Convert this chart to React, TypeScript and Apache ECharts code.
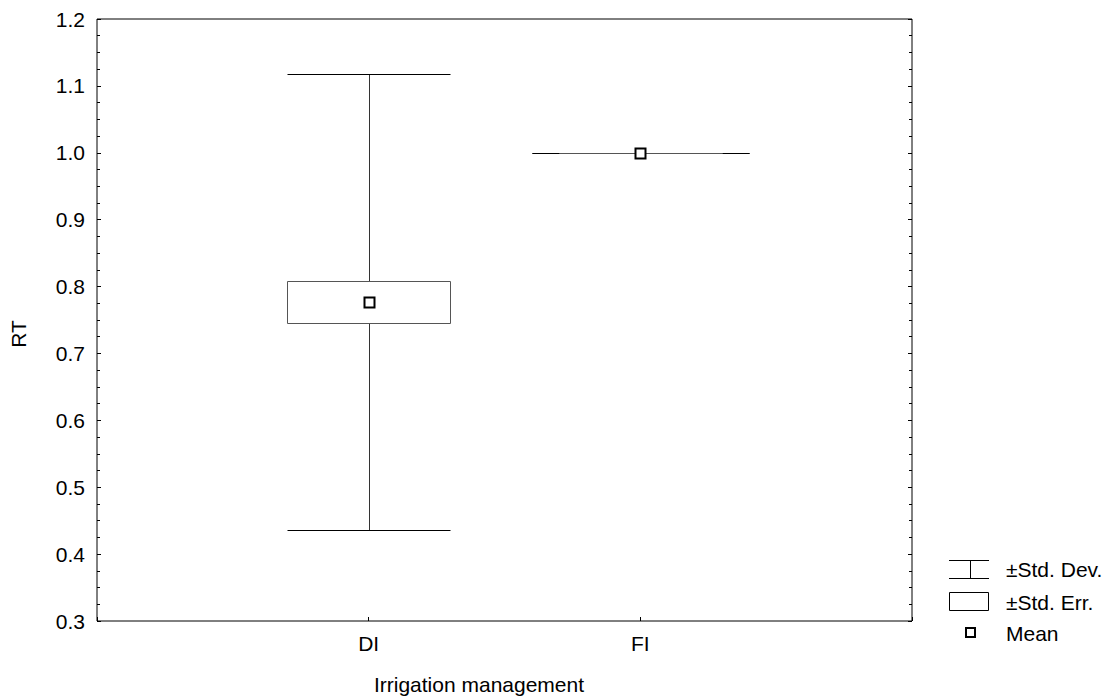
import React, { useEffect, useRef } from "react";
import * as echarts from "echarts";

// Group statistics for RT by irrigation management
const categories = ["DI", "FI"];
const means = [0.777, 1.0];
const stdDevs = [0.341, 0.0];
const stdErrs = [0.031, 0.0];

// Y axis range and tick step
const yMin = 0.3;
const yMax = 1.2;
const yStep = 0.1;

const FONT = "'Liberation Sans', Arial, sans-serif";
const FONT_SIZE = 21;

// Half-widths (in x-axis units) of the whisker caps and the SE boxes
const CAP_HALF = [0.3, 0.4];
const BOX_HALF = 0.3;

const crisp = (v: number) => Math.round(v) + 0.5;

export default function App() {
  const ref = useRef<HTMLDivElement>(null);

  useEffect(() => {
    if (!ref.current) return;
    const chart = echarts.init(ref.current, undefined, { renderer: "svg" });

    const data = categories.map((c, i) => [i + 1, means[i], stdDevs[i], stdErrs[i]]);

    const renderItem = (params: any, api: any) => {
      const x = api.value(0);
      const m = api.value(1);
      const sd = api.value(2);
      const se = api.value(3);
      const idx = params.dataIndex;
      const cap = CAP_HALF[idx];

      const xc = crisp(api.coord([x, m])[0]);
      const ySdTop = crisp(api.coord([x, m + sd])[1]);
      const ySdBot = crisp(api.coord([x, m - sd])[1]);
      const yBoxTop = crisp(api.coord([x, m + se])[1]);
      const yBoxBot = crisp(api.coord([x, m - se])[1]);
      const yMean = api.coord([x, m])[1];
      const capL = crisp(api.coord([x - cap, m])[0]);
      const capR = crisp(api.coord([x + cap, m])[0]);
      const boxL = crisp(api.coord([x - BOX_HALF, m])[0]);
      const boxR = crisp(api.coord([x + BOX_HALF, m])[0]);

      const lineStyle = { stroke: "#000", lineWidth: 1 };
      return {
        type: "group",
        children: [
          { type: "line", shape: { x1: xc, y1: ySdTop, x2: xc, y2: ySdBot }, style: { stroke: "#333", lineWidth: 1 } },
          { type: "line", shape: { x1: capL, y1: ySdTop, x2: capR, y2: ySdTop }, style: lineStyle },
          { type: "line", shape: { x1: capL, y1: ySdBot, x2: capR, y2: ySdBot }, style: lineStyle },
          {
            type: "polygon",
            shape: { points: [[boxL, yBoxTop], [boxR, yBoxTop], [boxR, yBoxBot], [boxL, yBoxBot]] },
            style: { fill: "#fff", stroke: "#555", lineWidth: 1 },
          },
          {
            type: "rect",
            shape: { x: xc - 0.5 - 4.5, y: Math.round(yMean) - 4.5, width: 10, height: 10 },
            style: { fill: "#fff", stroke: "#000", lineWidth: 2 },
          },
        ],
      };
    };

    const textStyle = { fontFamily: FONT, fontSize: FONT_SIZE, fill: "#000" };

    const yAxisBase = {
      type: "value",
      min: yMin,
      max: yMax,
      interval: yStep,
      axisLine: { show: false },
      splitLine: { show: false },
      axisTick: { show: true, inside: true, length: 4, lineStyle: { color: "#000" } },
      minorTick: { show: true, splitNumber: 4, length: 3, lineStyle: { color: "#000" } },
    };

    chart.setOption({
      animation: false,
      backgroundColor: "#fff",
      grid: {
        left: 97,
        right: 208,
        top: 19,
        bottom: 79,
        show: true,
        borderColor: "#000",
        borderWidth: 1,
        backgroundColor: "transparent",
      },
      xAxis: {
        type: "value",
        min: 0,
        max: categories.length + 1,
        interval: 1,
        axisLine: { show: false },
        splitLine: { show: false },
        axisTick: { show: true, inside: true, length: 4, lineStyle: { color: "#000" } },
        axisLabel: {
          margin: 12,
          fontFamily: FONT,
          fontSize: FONT_SIZE,
          color: "#000",
          formatter: (v: number) => categories[v - 1] ?? "",
        },
      },
      yAxis: [
        {
          ...yAxisBase,
          position: "left",
          axisLabel: {
            margin: 12,
            fontFamily: FONT,
            fontSize: FONT_SIZE,
            color: "#000",
            formatter: (v: number) => v.toFixed(1),
          },
        },
        {
          ...yAxisBase,
          position: "right",
          axisLabel: { show: false },
        },
      ],
      graphic: [
        {
          type: "text",
          x: 18,
          y: 334,
          rotation: Math.PI / 2,
          style: { ...textStyle, text: "RT", align: "center", verticalAlign: "middle" },
        },
        {
          type: "text",
          x: 479,
          y: 684,
          style: { ...textStyle, text: "Irrigation management", align: "center", verticalAlign: "middle" },
        },
        // Legend
        { type: "line", shape: { x1: 949, y1: 560.5, x2: 989, y2: 560.5 }, style: { stroke: "#000", lineWidth: 1 } },
        { type: "line", shape: { x1: 949, y1: 578.5, x2: 989, y2: 578.5 }, style: { stroke: "#000", lineWidth: 1 } },
        { type: "line", shape: { x1: 970.5, y1: 560.5, x2: 970.5, y2: 578.5 }, style: { stroke: "#000", lineWidth: 1 } },
        { type: "rect", shape: { x: 949.5, y: 592.5, width: 39, height: 18 }, style: { fill: "#fff", stroke: "#000", lineWidth: 1 } },
        { type: "rect", shape: { x: 966, y: 628, width: 9, height: 9 }, style: { fill: "#fff", stroke: "#000", lineWidth: 2 } },
        { type: "text", x: 1006, y: 569, style: { ...textStyle, text: "±Std. Dev.", align: "left", verticalAlign: "middle" } },
        { type: "text", x: 1006, y: 602, style: { ...textStyle, text: "±Std. Err.", align: "left", verticalAlign: "middle" } },
        { type: "text", x: 1006, y: 633, style: { ...textStyle, text: "Mean", align: "left", verticalAlign: "middle" } },
      ],
      series: [
        {
          type: "custom",
          renderItem,
          data,
          encode: { x: 0, y: 1 },
          clip: false,
        },
      ],
    });

    return () => chart.dispose();
  }, []);

  return (
    <div
      ref={ref}
      style={{ position: "absolute", left: 0, top: 0, width: 1120, height: 700 }}
    />
  );
}
